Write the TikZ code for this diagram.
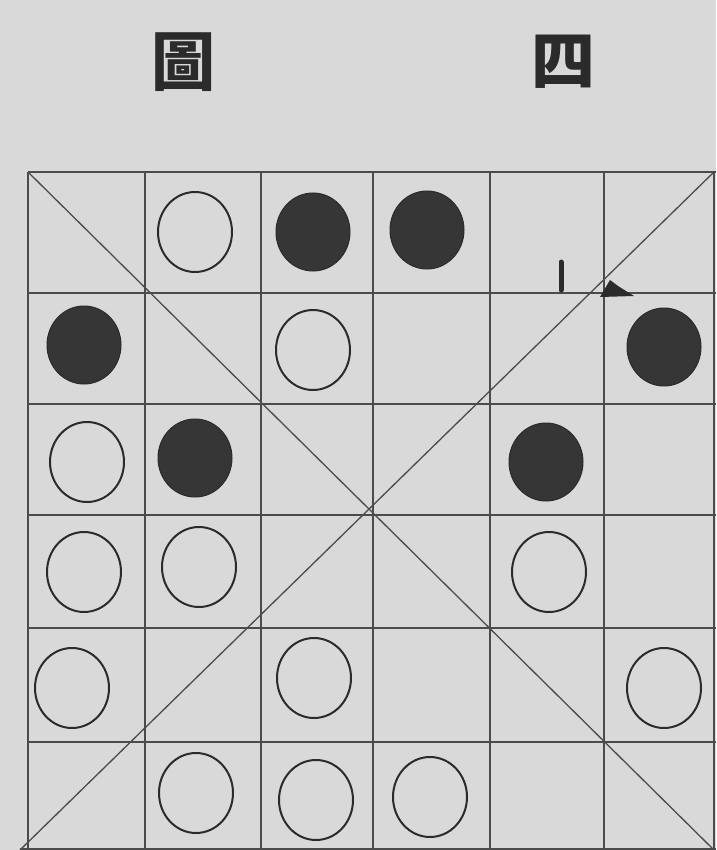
\documentclass[tikz,border=0pt]{standalone}
\usepackage{fontspec}
\newfontfamily\cjk{Noto Sans CJK TC}
\usetikzlibrary{shapes.geometric}
\definecolor{paper}{HTML}{D9D9D9}
\definecolor{ink}{HTML}{2B2B2B}
\tikzset{
  gridline/.style={draw=ink!85, line width=1.4pt},
  wpiece/.style={ellipse, draw=ink, line width=2pt, minimum width=74pt, minimum height=80pt, inner sep=0pt},
  bpiece/.style={ellipse, draw=ink, fill=ink!95, line width=1pt, minimum width=74pt, minimum height=78pt, inner sep=0pt},
  titlechar/.style={font=\cjk\bfseries\fontsize{64}{64}\selectfont, text=ink, inner sep=0pt}
}
\begin{document}
\begin{tikzpicture}[x=1pt,y=-1pt]
\fill[paper] (0,0) rectangle (716,850);
\useasboundingbox (0,0) rectangle (716,850);
\node[titlechar] (t1) at (183,62) {圖};
\node[titlechar] (t2) at (563,62) {四};
% grid
\foreach \x in {28,145,261,373,490,604} \draw[gridline] (\x,172) -- (\x,850);
\draw[gridline] (714,172) -- (714,850);
\foreach \y in {172,293,404,515,628,742} \draw[gridline] (28,\y) -- (716,\y);
\draw[gridline] (20,849) -- (716,849);
% diagonals
\coordinate (tl) at (28,172);
\coordinate (br) at (716,852);
\coordinate (tr) at (714,172);
\coordinate (bl) at (20,850);
\draw[gridline, line width=1.3pt] (tl) -- (br);
\draw[gridline, line width=1.3pt] (tr) -- (bl);
% pieces row 0
\node[wpiece] (p01) at (195,232) {};
\node[bpiece] (p02) at (313,232) {};
\node[bpiece] (p03) at (427,230) {};
% row 1
\node[bpiece] (p10) at (84,345) {};
\node[wpiece] (p12) at (313,350) {};
\node[bpiece] (p15) at (664,347) {};
% row 2
\node[wpiece] (p20) at (87,462) {};
\node[bpiece] (p21) at (195,458) {};
\node[bpiece] (p24) at (546,462) {};
% row 3
\node[wpiece] (p30) at (84,572) {};
\node[wpiece] (p31) at (199,567) {};
\node[wpiece] (p34) at (549,572) {};
% row 4
\node[wpiece] (p40) at (72,688) {};
\node[wpiece] (p42) at (314,678) {};
\node[wpiece] (p45) at (664,688) {};
% row 5
\node[wpiece] (p51) at (196,793) {};
\node[wpiece] (p52) at (316,800) {};
\node[wpiece] (p53) at (430,797) {};
% small marks
\draw[ink, line width=5pt, line cap=round] (561,262) -- (561,290);
\fill[ink] (600,297) -- (610,280) -- (618,286) -- (634,296) -- cycle;
\end{tikzpicture}
\end{document}
